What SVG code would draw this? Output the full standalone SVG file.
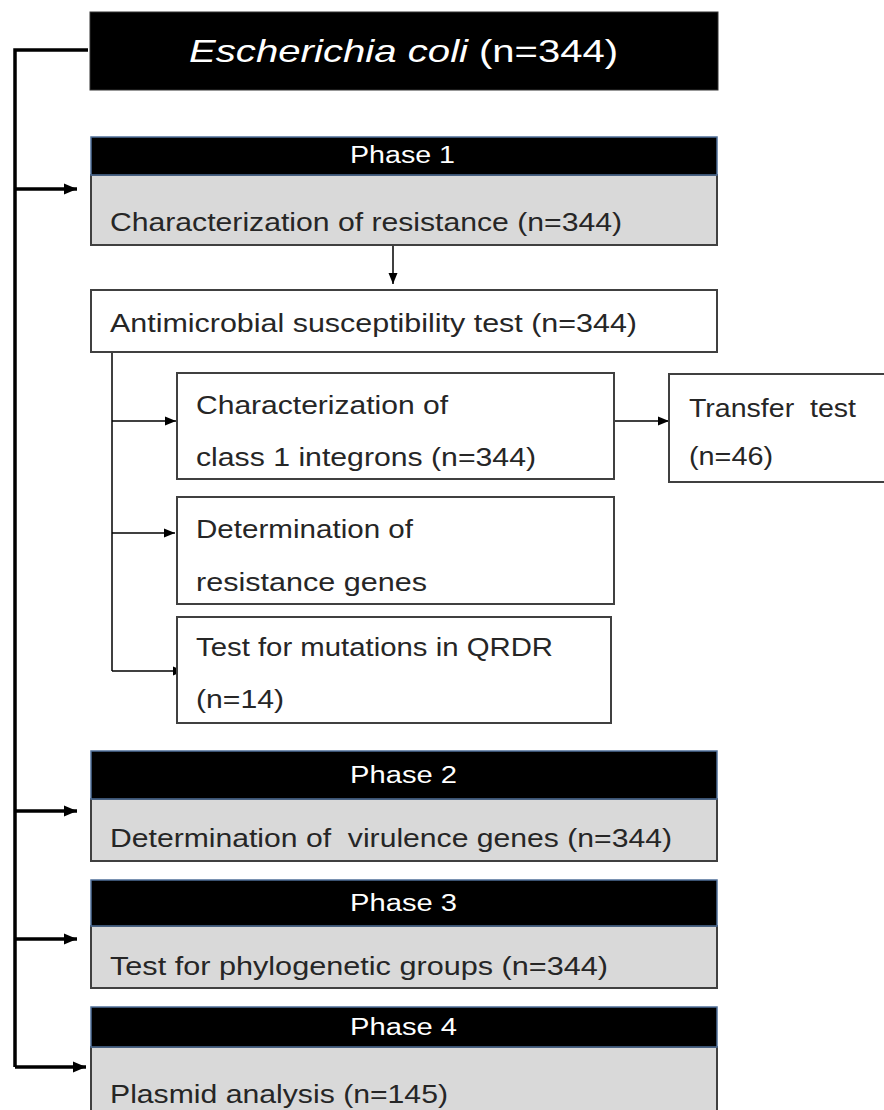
<svg xmlns="http://www.w3.org/2000/svg" width="884" height="1110" viewBox="0 0 884 1110">
<defs>
<style>
text{font-family:"Liberation Sans",Arial,sans-serif;}
.hdr{fill:#000;stroke:#4f6f99;stroke-width:1.5;}
.body{fill:#d9d9d9;stroke:#404040;stroke-width:2;}
.box{fill:#fff;stroke:#404040;stroke-width:2;}
.t{font-size:25px;fill:#262626;white-space:pre;}
.ph{font-size:23px;fill:#fff;}
.ttl{font-size:32px;fill:#fff;}
.thick{fill:none;stroke:#000;stroke-width:3.5;}
.thin{fill:none;stroke:#000;stroke-width:1.5;}
</style>
<marker id="ah" markerUnits="userSpaceOnUse" markerWidth="14" markerHeight="12" refX="13" refY="6" orient="auto">
<path d="M0,0.5 L13,6 L0,11.5 z" fill="#000"/>
</marker>
<marker id="as" markerUnits="userSpaceOnUse" markerWidth="12" markerHeight="10" refX="11" refY="5" orient="auto">
<path d="M0,0.5 L11,5 L0,9.5 z" fill="#000"/>
</marker>
</defs>
<rect width="884" height="1110" fill="#fff"/>

<g id="connectors">
<path class="thick" d="M88,50 H15 V1067"/>
<path class="thick" d="M15,189 H77" marker-end="url(#ah)"/>
<path class="thick" d="M15,811 H77" marker-end="url(#ah)"/>
<path class="thick" d="M15,939 H77" marker-end="url(#ah)"/>
<path class="thick" d="M15,1067 H86" marker-end="url(#ah)"/>
<path class="thin" d="M393,245 V284" marker-end="url(#as)"/>
<path class="thin" d="M112,352 V671"/>
<path class="thin" d="M112,421 H176" marker-end="url(#as)"/>
<path class="thin" d="M112,533 H175" marker-end="url(#as)"/>
<path class="thin" d="M112,671 H184" marker-end="url(#as)"/>
<path class="thin" d="M614,421 H669" marker-end="url(#as)"/>
</g>

<g id="title">
<rect x="90" y="12" width="628" height="78" fill="#000" stroke="#333" stroke-width="1"/>
<text class="ttl" x="189" y="62" font-style="italic" textLength="279" lengthAdjust="spacingAndGlyphs">Escherichia coli</text>
<text class="ttl" x="479" y="62" textLength="139" lengthAdjust="spacingAndGlyphs">(n=344)</text>
</g>

<g id="phase1">
<rect class="body" x="91" y="175" width="626" height="70"/>
<rect class="hdr" x="91" y="137" width="626" height="38"/>
<text class="ph" x="350" y="163" textLength="105" lengthAdjust="spacingAndGlyphs">Phase 1</text>
<text class="t" x="110" y="231" textLength="512" lengthAdjust="spacingAndGlyphs">Characterization of resistance (n=344)</text>
</g>

<g id="ast">
<rect class="box" x="91" y="290" width="626" height="62"/>
<text class="t" x="110" y="332" textLength="527" lengthAdjust="spacingAndGlyphs">Antimicrobial susceptibility test (n=344)</text>
</g>

<g id="integrons">
<rect class="box" x="177" y="373" width="437" height="106"/>
<text class="t" x="196" y="414" textLength="252" lengthAdjust="spacingAndGlyphs">Characterization of</text>
<text class="t" x="196" y="466" textLength="340" lengthAdjust="spacingAndGlyphs">class 1 integrons (n=344)</text>
</g>

<g id="transfer">
<rect class="box" x="669" y="374" width="230" height="108"/>
<text class="t" x="689" y="417" textLength="167" lengthAdjust="spacingAndGlyphs">Transfer  test</text>
<text class="t" x="689" y="465" textLength="84" lengthAdjust="spacingAndGlyphs">(n=46)</text>
</g>

<g id="resgenes">
<rect class="box" x="177" y="497" width="437" height="107"/>
<text class="t" x="196" y="538" textLength="217" lengthAdjust="spacingAndGlyphs">Determination of</text>
<text class="t" x="196" y="591" textLength="231" lengthAdjust="spacingAndGlyphs">resistance genes</text>
</g>

<g id="qrdr">
<rect class="box" x="177" y="617" width="434" height="106"/>
<text class="t" x="196" y="656" textLength="357" lengthAdjust="spacingAndGlyphs">Test for mutations in QRDR</text>
<text class="t" x="196" y="708" textLength="88" lengthAdjust="spacingAndGlyphs">(n=14)</text>
</g>

<g id="phase2">
<rect class="body" x="91" y="799" width="626" height="62"/>
<rect class="hdr" x="91" y="751" width="626" height="48"/>
<text class="ph" x="350" y="783" textLength="107" lengthAdjust="spacingAndGlyphs">Phase 2</text>
<text class="t" x="110" y="847" textLength="562" lengthAdjust="spacingAndGlyphs">Determination of  virulence genes (n=344)</text>
</g>

<g id="phase3">
<rect class="body" x="91" y="926" width="626" height="62"/>
<rect class="hdr" x="91" y="880" width="626" height="46"/>
<text class="ph" x="350" y="911" textLength="107" lengthAdjust="spacingAndGlyphs">Phase 3</text>
<text class="t" x="110" y="975" textLength="498" lengthAdjust="spacingAndGlyphs">Test for phylogenetic groups (n=344)</text>
</g>

<g id="phase4">
<rect class="body" x="91" y="1047" width="626" height="80"/>
<rect class="hdr" x="91" y="1007" width="626" height="40"/>
<text class="ph" x="350" y="1035" textLength="107" lengthAdjust="spacingAndGlyphs">Phase 4</text>
<text class="t" x="110" y="1103" textLength="338" lengthAdjust="spacingAndGlyphs">Plasmid analysis (n=145)</text>
</g>
</svg>
